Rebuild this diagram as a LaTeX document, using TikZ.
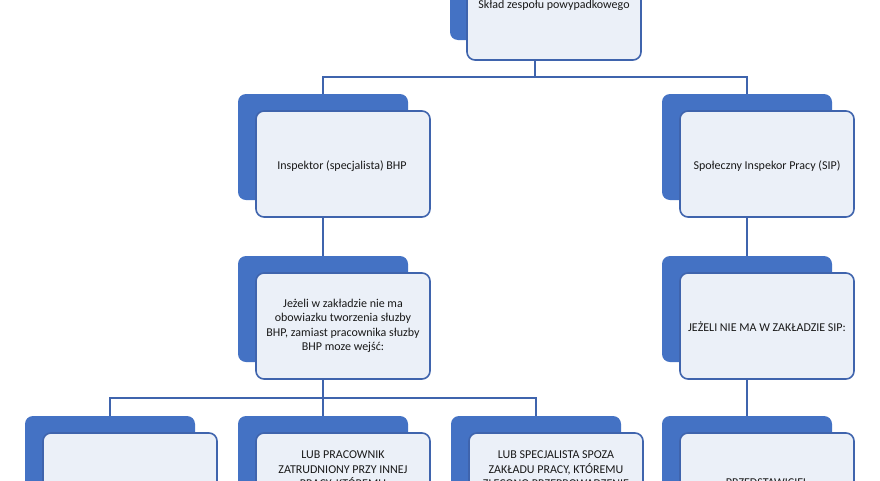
\documentclass[tikz,border=0pt]{standalone}
\usepackage{fontspec}
\setmainfont{Carlito}
\begin{document}
\begin{tikzpicture}[x=1pt,y=-1pt,
  back/.style={fill=bk,rounded corners=8pt},
  front/.style={fill=fr,draw=ln,line width=1.6pt,rounded corners=8pt},
  txt/.style={align=center,font=\fontsize{12}{14.5}\selectfont,text=black!90,inner sep=0pt},
  con/.style={draw=ln,line width=1.6pt}]
\definecolor{bk}{HTML}{4472C4}
\definecolor{fr}{HTML}{EBF0F8}
\definecolor{ln}{HTML}{3F64AD}
\useasboundingbox[fill=white] (0,0) rectangle (880,480);
\clip (0,0) rectangle (880,480);
% top
\fill[back] (450,-20) rectangle (620,40);
\draw[front] (467,-20) rectangle (641,60);
\node[txt] (top) at (554,5) {Skład zespołu powypadkowego};
% level 2 and 3
\foreach \x/\y/\n in {238/94/a,662/94/b,238/256/c,662/256/d}{
  \fill[back] (\x,\y) rectangle ++(170,106);
  \draw[front] (\x+18,\y+17) rectangle ++(174,106);
  \coordinate (\n) at (\x+85,\y);
  \coordinate (\n b) at (\x+85,\y+123);
}
\node[txt] (ta) at (342,166) {Inspektor (specjalista) BHP};
\node[txt] (tb) at (767,166) {Społeczny Inspekor Pracy (SIP)};
\node[txt] (tc) at (343,326) {Jeżeli w zakładzie nie ma\\obowiazku tworzenia słuzby\\BHP, zamiast pracownika słuzby\\BHP moze wejść:};
\node[txt] (td) at (767,327) {JEŻELI NIE MA W ZAKŁADZIE SIP:};
% level 4
\foreach \x/\n in {25/e,238/f,451/g,662/h}{
  \fill[back] (\x,416) rectangle ++(170,110);
  \draw[front] (\x+18,433) rectangle ++(174,110);
  \coordinate (\n) at (\x+85,416);
}
\node[txt,anchor=north] (tf) at (343,451) {LUB PRACOWNIK\\ZATRUDNIONY PRZY INNEJ\\PRACY, KTÓREMU};
\node[txt,anchor=north] (tg) at (556,451) {LUB SPECJALISTA SPOZA\\ZAKŁADU PRACY, KTÓREMU\\ZLECONO PRZEPROWADZENIE};
\node[txt,anchor=north] (th) at (767,479) {PRZEDSTAWICIEL};
% connectors
\coordinate (tb0) at (535,60);
\draw[con] (tb0) -- (535,77) -| (a);
\draw[con] (535,77) -| (b);
\draw[con] (ab) -- (c);
\draw[con] (bb) -- (d);
\draw[con] (cb) -- (323,398) -| (e);
\draw[con] (323,398) -| (g);
\draw[con] (323,398) -- (f);
\draw[con] (db) -- (h);
\end{tikzpicture}
\end{document}
